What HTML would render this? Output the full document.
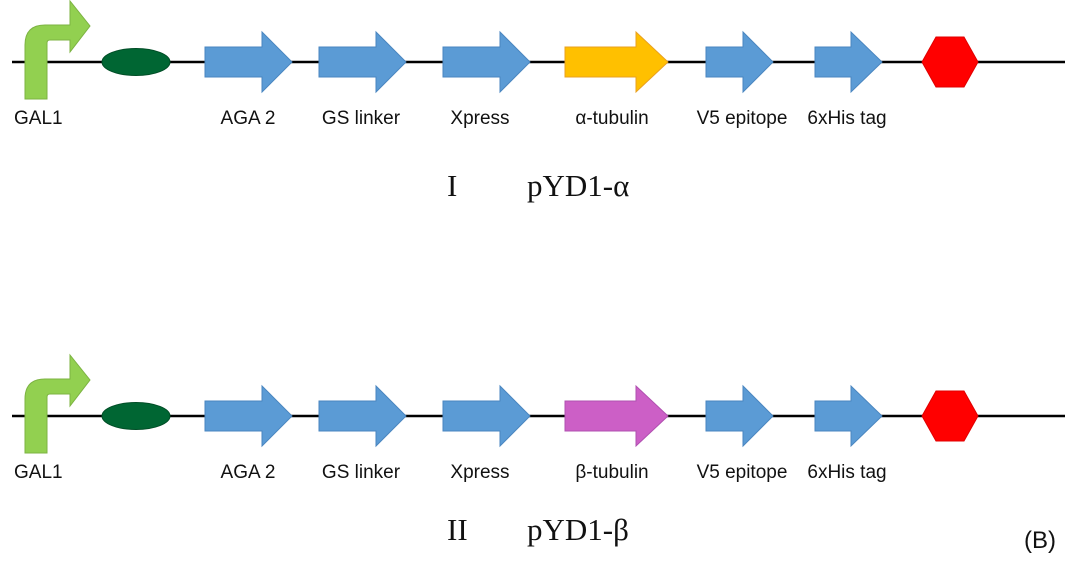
<!DOCTYPE html>
<html><head><meta charset="utf-8"><style>
html,body{margin:0;padding:0;background:#fff;}
svg{display:block;}
.lbl{font-family:"Liberation Sans",sans-serif;font-size:19px;fill:#111;}
.ttl{font-family:"Liberation Serif",serif;font-size:31px;fill:#111;}
</style></head><body>
<svg id="fig" width="1091" height="584" viewBox="0 0 1091 584"></svg>
<script>
const rowOffsets = [0, 354];
const rowTitles = [["I","pYD1-α"],["II","pYD1-β"]];
const tubulinColors = ["#FFC000","#CC5FC6"];
const tubulinStroke = ["#E9A020","#B050B0"];
const tubulinLabels = ["α-tubulin","β-tubulin"];
const arrowStarts = [205, 319, 443, 565, 706, 815];
const arrowHeads = [262, 376, 500, 636, 743, 851];
const arrowTips = [292, 406, 530, 668, 773, 882];
const arrowLabels = ["AGA 2","GS linker","Xpress","TUB","V5 epitope","6xHis tag"];
const labelX = [248, 361, 480, 612, 742, 847];
const ns="http://www.w3.org/2000/svg";
const svg=document.getElementById('fig');
function mk(tag,attrs,parent){const e=document.createElementNS(ns,tag);for(const k in attrs)e.setAttribute(k,attrs[k]);(parent||svg).appendChild(e);return e;}
rowOffsets.forEach((off,r)=>{
  const g=mk('g',{transform:`translate(0,${off})`});
  
  
  const ln=mk('line',{x1:12,y1:62,x2:1065,y2:62,stroke:'#000','stroke-width':2.5},g);
  
  
  const prom=mk('path',{d:'M25,99 L25,45 Q25,25 45,25 L70,25 L70,1 L90,26 L70,52 L70,40 L50,40 Q47,40 47,43 L47,99 Z',fill:'#92D050',stroke:'#7CB342','stroke-width':1},g);
  
  
  const t0=mk('text',{x:14,y:124,class:'lbl'},g);t0.textContent='GAL1';
  
  
  const el=mk('ellipse',{cx:136,cy:62,rx:34,ry:13.5,fill:'#006633',stroke:'#004d26','stroke-width':1},g);
  
  
  arrowStarts.forEach((xs,i)=>{
    const isTub=i===3;
    const fill=isTub?tubulinColors[r]:'#5B9BD5';
    const st=isTub?tubulinStroke[r]:'#4A86C0';
    const a=mk('path',{d:`M${xs},47 L${arrowHeads[i]},47 L${arrowHeads[i]},32 L${arrowTips[i]},62 L${arrowHeads[i]},92 L${arrowHeads[i]},77 L${xs},77 Z`,fill:fill,stroke:st,'stroke-width':1},g);
    
    
    const t=mk('text',{x:labelX[i],y:124,class:'lbl','text-anchor':'middle'},g);
    t.textContent=isTub?tubulinLabels[r]:arrowLabels[i];
    
    
  });
  const hx=mk('polygon',{points:'922,62 936,37 964,37 978,62 964,87 936,87',fill:'#FF0000',stroke:'#E00000','stroke-width':1},g);
  
  
  const tt=mk('text',{x:447,y:[196,186][r],class:'ttl'},g);tt.textContent=rowTitles[r][0];
  
  
  const tn=mk('text',{x:527,y:[196,186][r],class:'ttl'},g);tn.textContent=rowTitles[r][1];
  
  
});
const b=mk('text',{x:1024,y:548,class:'lbl'});
b.setAttribute('style','font-size:24px');
b.textContent='(B)';


</script>
</body></html>
